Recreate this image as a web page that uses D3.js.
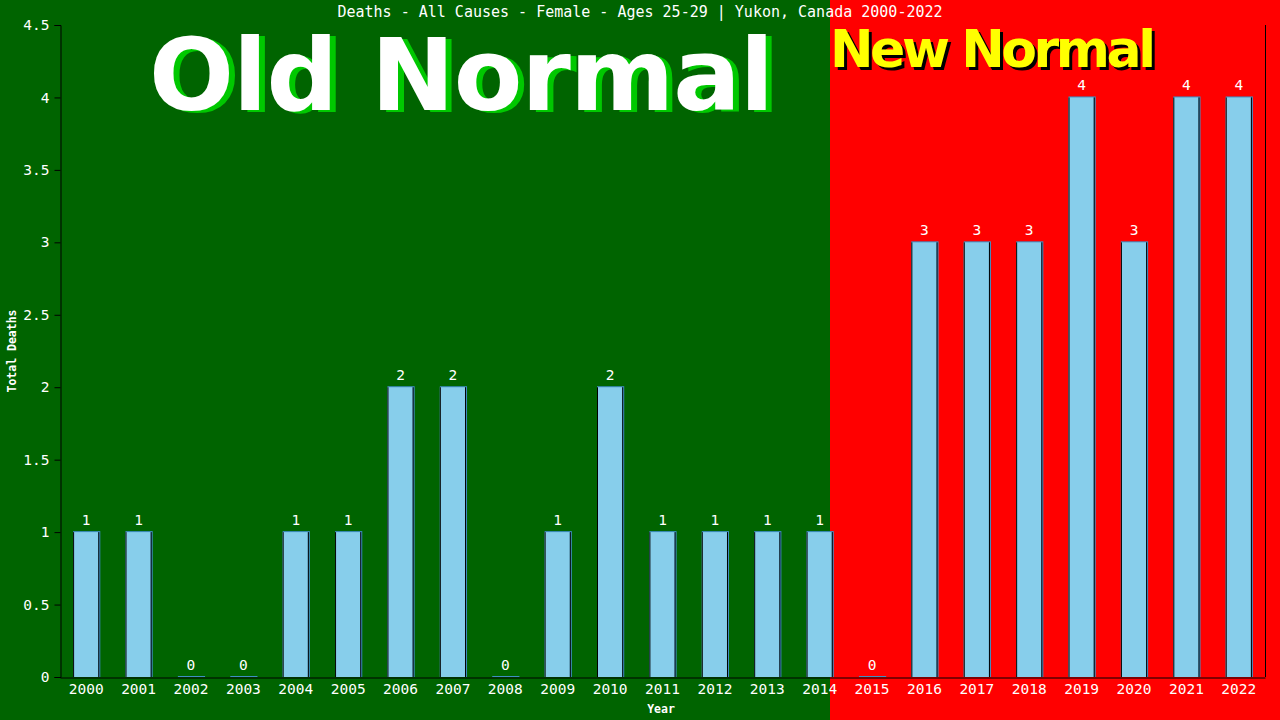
<!DOCTYPE html>
<html>
<head>
<meta charset="utf-8">
<script src="https://cdn.jsdelivr.net/npm/d3@7"></script>
<style>
  html, body { margin: 0; padding: 0; background: #006400; }
  svg { display: block; }
  .mono { font-family: "DejaVu Sans Mono", "Liberation Mono", monospace; }
  .big { font-family: "DejaVu Sans", Verdana, sans-serif; font-weight: bold; }
</style>
</head>
<body>
<svg id="chart" width="1280" height="720"></svg>
<script>
// Data
const years = ["2000", "2001", "2002", "2003", "2004", "2005", "2006", "2007",
    "2008", "2009", "2010", "2011", "2012", "2013", "2014", "2015", "2016",
    "2017", "2018", "2019", "2020", "2021", "2022"];
const deaths = [1, 1, 0, 0, 1, 1, 2, 2, 0, 1, 2, 1, 1, 1, 1, 0, 3, 3, 3, 4, 3, 4, 4];
const yTicks = [0, 0.5, 1, 1.5, 2, 2.5, 3, 3.5, 4, 4.5];

const chartTitle = "Deaths - All Causes - Female - Ages 25-29 | Yukon, Canada 2000-2022";

const width = 1280, height = 720;
const margin = {top: 25, right: 15, bottom: 43, left: 60};
const splitX = 830; // where the "New Normal" background begins

const svg = d3.select("#chart");

// Backgrounds
svg.append("rect")
    .attr("x", 0).attr("y", 0)
    .attr("width", width).attr("height", height)
    .attr("fill", "#006400");
svg.append("rect")
    .attr("x", splitX).attr("y", 0)
    .attr("width", width - splitX).attr("height", height)
    .attr("fill", "#ff0000");

const x = d3.scaleBand()
    .domain(years)
    .range([margin.left, width - margin.right])
    .paddingInner(0.5)
    .paddingOuter(0.25);

const y = d3.scaleLinear()
    .domain([0, 4.5])
    .range([height - margin.bottom, margin.top]);

// Big labels
const oldNormal = svg.append("g").attr("class", "big");
oldNormal.append("text")
    .attr("x", 155).attr("y", 112)
    .attr("font-size", 100)
    .attr("textLength", 625)
    .attr("fill", "#00c800")
    .text("Old Normal");
oldNormal.append("text")
    .attr("x", 149).attr("y", 110)
    .attr("font-size", 100)
    .attr("textLength", 625)
    .attr("fill", "#ffffff")
    .text("Old Normal");

const newNormal = svg.append("g").attr("class", "big");
newNormal.append("text")
    .attr("x", 833).attr("y", 70)
    .attr("font-size", 52)
    .attr("textLength", 326)
    .attr("fill", "#000000")
    .text("New Normal");
newNormal.append("text")
    .attr("x", 830).attr("y", 67)
    .attr("font-size", 52)
    .attr("textLength", 326)
    .attr("fill", "#ffff00")
    .text("New Normal");

// Title
svg.append("text")
    .attr("class", "mono")
    .attr("x", 640).attr("y", 17)
    .attr("text-anchor", "middle")
    .attr("font-size", 15)
    .attr("fill", "#ffffff")
    .text(chartTitle);

// Bars
const bars = svg.append("g").selectAll("g")
    .data(years.map((yr, i) => ({year: yr, value: deaths[i]})))
    .join("g");

// shadow
bars.append("rect")
    .attr("x", d => x(d.year))
    .attr("y", d => y(d.value) - 1)
    .attr("width", x.bandwidth() + 1)
    .attr("height", d => y(0) - y(d.value) + 1)
    .attr("fill", "#3f8fc4");

bars.append("rect")
    .attr("x", d => x(d.year))
    .attr("y", d => y(d.value))
    .attr("width", x.bandwidth() - 1)
    .attr("height", d => y(0) - y(d.value))
    .attr("fill", "#87ceeb");

bars.filter(d => d.value > 0).append("path")
    .attr("d", d => {
        const x0 = x(d.year) + 0.5, x1 = x(d.year) + x.bandwidth() - 0.5;
        return `M${x0},${y(0)}V${y(d.value)}M${x1},${y(d.value)}V${y(0)}`;
    })
    .attr("stroke", "#000000")
    .attr("fill", "none");

// Value labels
bars.append("text")
    .attr("class", "mono")
    .attr("x", d => x(d.year) + x.bandwidth() / 2)
    .attr("y", d => y(d.value) - 7)
    .attr("text-anchor", "middle")
    .attr("font-size", 14.5)
    .attr("fill", "#ffffff")
    .text(d => d.value);

// Axes
const yAxis = svg.append("g")
    .attr("transform", `translate(${margin.left + 0.5},0)`)
    .call(d3.axisLeft(y).tickValues(yTicks).tickSize(6).tickPadding(5).tickFormat(d3.format("")));
yAxis.selectAll("text")
    .attr("class", "mono")
    .attr("font-size", 14.5)
    .attr("fill", "#ffffff");

const xAxis = svg.append("g")
    .attr("transform", `translate(0,${height - margin.bottom + 0.5})`)
    .call(d3.axisBottom(x).tickSize(0).tickPadding(6));
xAxis.selectAll("text")
    .attr("class", "mono")
    .attr("font-size", 14.5)
    .attr("fill", "#ffffff");

svg.selectAll(".domain, .tick line").attr("stroke", "#000000");

// Right border
svg.append("line")
    .attr("x1", width - margin.right + 0.5).attr("x2", width - margin.right + 0.5)
    .attr("y1", margin.top).attr("y2", height - margin.bottom)
    .attr("stroke", "#000000");

// Axis titles
svg.append("text")
    .attr("class", "mono")
    .attr("transform", `translate(16,${(margin.top + height - margin.bottom) / 2}) rotate(-90)`)
    .attr("text-anchor", "middle")
    .attr("font-size", 11.5).attr("font-weight", "bold")
    .attr("fill", "#ffffff")
    .text("Total Deaths");

svg.append("text")
    .attr("class", "mono")
    .attr("x", 661).attr("y", 713)
    .attr("text-anchor", "middle")
    .attr("font-size", 11.5).attr("font-weight", "bold")
    .attr("fill", "#ffffff")
    .text("Year");
</script>
</body>
</html>
